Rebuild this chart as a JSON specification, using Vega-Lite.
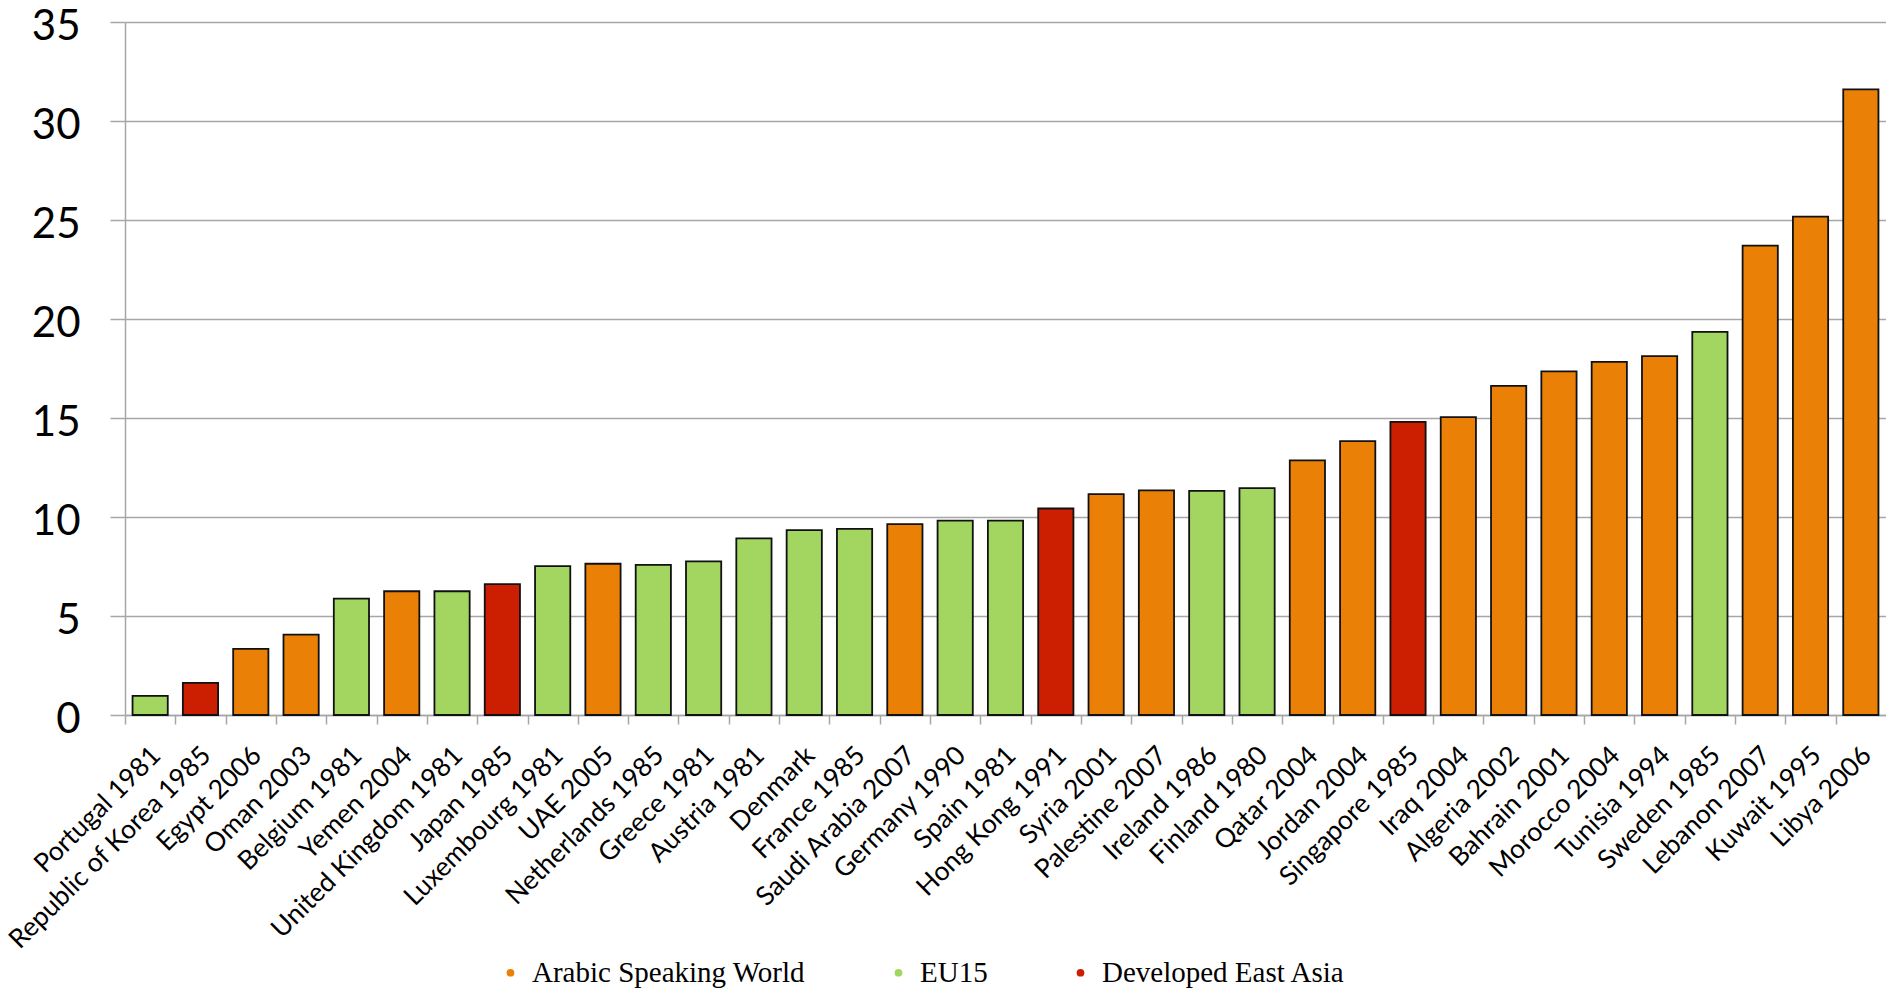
{
  "$schema": "https://vega.github.io/schema/vega-lite/v6.json",
  "width": 1761,
  "height": 693,
  "autosize": {"type": "none"},
  "padding": {"left": 125, "top": 22, "right": 0, "bottom": 276},
  "background": "white",
  "config": {"view": {"stroke": null}},
  "data": {"values": [
    {"country": "Portugal 1981", "value": 0.97, "group": "EU15"},
    {"country": "Republic of Korea 1985", "value": 1.62, "group": "Developed East Asia"},
    {"country": "Egypt 2006", "value": 3.34, "group": "Arabic Speaking World"},
    {"country": "Oman 2003", "value": 4.06, "group": "Arabic Speaking World"},
    {"country": "Belgium 1981", "value": 5.88, "group": "EU15"},
    {"country": "Yemen 2004", "value": 6.25, "group": "Arabic Speaking World"},
    {"country": "United Kingdom 1981", "value": 6.25, "group": "EU15"},
    {"country": "Japan 1985", "value": 6.61, "group": "Developed East Asia"},
    {"country": "Luxembourg 1981", "value": 7.52, "group": "EU15"},
    {"country": "UAE 2005", "value": 7.64, "group": "Arabic Speaking World"},
    {"country": "Netherlands 1985", "value": 7.58, "group": "EU15"},
    {"country": "Greece 1981", "value": 7.76, "group": "EU15"},
    {"country": "Austria 1981", "value": 8.92, "group": "EU15"},
    {"country": "Denmark", "value": 9.34, "group": "EU15"},
    {"country": "France 1985", "value": 9.4, "group": "EU15"},
    {"country": "Saudi Arabia 2007", "value": 9.64, "group": "Arabic Speaking World"},
    {"country": "Germany 1990", "value": 9.82, "group": "EU15"},
    {"country": "Spain 1981", "value": 9.82, "group": "EU15"},
    {"country": "Hong Kong 1991", "value": 10.43, "group": "Developed East Asia"},
    {"country": "Syria 2001", "value": 11.16, "group": "Arabic Speaking World"},
    {"country": "Palestine 2007", "value": 11.34, "group": "Arabic Speaking World"},
    {"country": "Ireland 1986", "value": 11.32, "group": "EU15"},
    {"country": "Finland 1980", "value": 11.46, "group": "EU15"},
    {"country": "Qatar 2004", "value": 12.86, "group": "Arabic Speaking World"},
    {"country": "Jordan 2004", "value": 13.83, "group": "Arabic Speaking World"},
    {"country": "Singapore 1985", "value": 14.8, "group": "Developed East Asia"},
    {"country": "Iraq 2004", "value": 15.04, "group": "Arabic Speaking World"},
    {"country": "Algeria 2002", "value": 16.62, "group": "Arabic Speaking World"},
    {"country": "Bahrain 2001", "value": 17.35, "group": "Arabic Speaking World"},
    {"country": "Morocco 2004", "value": 17.83, "group": "Arabic Speaking World"},
    {"country": "Tunisia 1994", "value": 18.13, "group": "Arabic Speaking World"},
    {"country": "Sweden 1985", "value": 19.35, "group": "EU15"},
    {"country": "Lebanon 2007", "value": 23.71, "group": "Arabic Speaking World"},
    {"country": "Kuwait 1995", "value": 25.17, "group": "Arabic Speaking World"},
    {"country": "Libya 2006", "value": 31.6, "group": "Arabic Speaking World"}
  ]},
  "mark": {"type": "bar", "stroke": "#111111", "strokeWidth": 1.8},
  "encoding": {
    "x": {
      "field": "country", "type": "nominal", "sort": null,
      "scale": {"paddingInner": 0.3, "paddingOuter": 0.15},
      "axis": {
        "title": null,
        "domainColor": "#a6a6a6", "domainWidth": 1.5,
        "tickColor": "#a6a6a6", "tickWidth": 1.5, "tickSize": 9,
        "tickOffset": -25.16,
        "labelOffset": 31,
        "labelAngle": -45, "labelAlign": "right", "labelBaseline": "middle",
        "labelFont": "Lato", "labelFontSize": 26.5, "labelColor": "#000000",
        "labelPadding": 27, "labelOverlap": false, "labelLimit": 0
      }
    },
    "y": {
      "field": "value", "type": "quantitative",
      "scale": {"domain": [0, 35], "nice": false},
      "axis": {
        "title": null,
        "values": [0, 5, 10, 15, 20, 25, 30, 35],
        "grid": true, "gridColor": "#a6a6a6", "gridWidth": 1.5,
        "domainColor": "#a6a6a6", "domainWidth": 1.5,
        "tickColor": "#a6a6a6", "tickWidth": 1.5, "tickSize": 15,
        "labelFont": "Lato", "labelFontSize": 42, "labelColor": "#000000",
        "labelPadding": 30, "labelOffset": 4
      }
    },
    "color": {
      "field": "group", "type": "nominal",
      "scale": {
        "domain": ["Arabic Speaking World", "EU15", "Developed East Asia"],
        "range": ["#EA8106", "#A2D661", "#CC1E00"]
      },
      "legend": {
        "title": null,
        "orient": "none", "direction": "horizontal",
        "legendX": 371, "legendY": 936,
        "padding": 0,
        "symbolType": "circle", "symbolSize": 60, "symbolStrokeWidth": 0,
        "labelFont": "Liberation Serif", "labelFontSize": 29, "labelColor": "#000000",
        "labelOffset": 7, "columnPadding": 78, "labelLimit": 0
      }
    }
  }
}
